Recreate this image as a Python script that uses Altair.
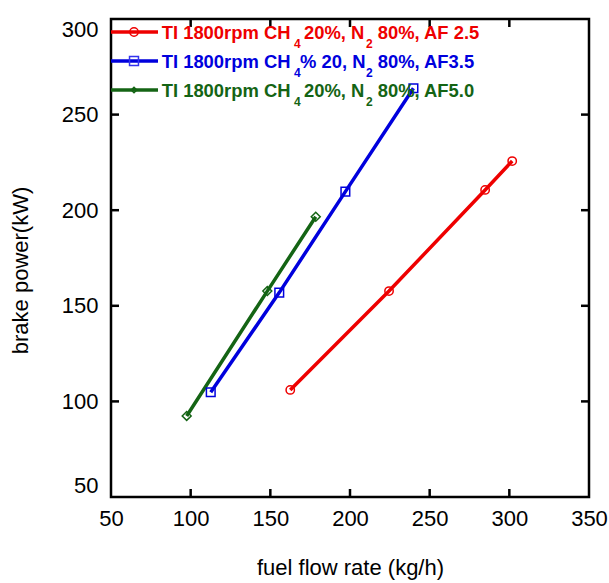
import altair as alt
import pandas as pd

# ---- data ----
series_names = ["AF 2.5", "AF3.5", "AF5.0"]
red_x = [162.5, 224.5, 284.8, 301.8]
red_y = [106.0, 157.7, 210.6, 225.7]
blue_x = [112.6, 155.6, 197.1, 239.8]
blue_y = [104.8, 156.9, 209.7, 263.8]
green_x = [97.5, 148.1, 178.5]
green_y = [92.4, 157.7, 196.6]

x_inner_ticks = [100, 150, 200, 250, 300]
y_inner_ticks = [100, 150, 200, 250]

legend_rows = [
    ["TI 1800rpm CH", "4", "20%, N", "2", "80%, AF 2.5"],
    ["TI 1800rpm CH", "4", "% 20, N", "2", "80%, AF3.5"],
    ["TI 1800rpm CH", "4", "20%, N", "2", "80%, AF5.0"],
]

colors = ["#ee0000", "#0000dd", "#146414"]
marker_colors = ["#ee0000", "#3333ee", "#146414"]
shapes = ["circle", "square", "diamond"]
sizes = [70, 80, 30]

rows = []
for name, xs, ys in zip(series_names, [red_x, blue_x, green_x], [red_y, blue_y, green_y]):
    for a, b in zip(xs, ys):
        rows.append({"series": name, "x": a, "y": b})
df = pd.DataFrame(rows)

FONT = "Liberation Sans"
W = 478
H = 478

xscale = alt.Scale(domain=[50, 350], nice=False, zero=False)
yscale = alt.Scale(domain=[50, 300], nice=False, zero=False)

xaxis = alt.Axis(values=[50, 100, 150, 200, 250, 300, 350], title="fuel flow rate (kg/h)",
                 ticks=False, tickSize=0, domain=False, grid=False, labelPadding=11,
                 labelFlush=False, labelOverlap=False,
                 labelFontSize=22, labelFont=FONT, labelColor="black",
                 titleFontSize=22, titleFont=FONT, titleFontWeight="normal", titleColor="black",
                 titleY=77, titleBaseline="alphabetic", titleX=W / 2, titleAlign="center")
yaxis = alt.Axis(values=[50, 100, 150, 200, 250, 300], title="brake power(kW)",
                 ticks=False, tickSize=0, domain=False, grid=False, labelPadding=13,
                 labelFontSize=22, labelFont=FONT, labelColor="black", labelFlush=True,
                 labelOverlap=False,
                 titleFontSize=22, titleFont=FONT, titleFontWeight="normal", titleColor="black",
                 titleAngle=270, titleX=-84, titleY=251, titleBaseline="alphabetic",
                 titleAlign="center")

color_scale = alt.Scale(domain=series_names, range=colors)

lines = alt.Chart(df).mark_line(strokeWidth=3.5).encode(
    x=alt.X("x:Q", scale=xscale, axis=xaxis),
    y=alt.Y("y:Q", scale=yscale, axis=yaxis),
    color=alt.Color("series:N", scale=color_scale, legend=None),
    detail="series:N",
)

points = alt.Chart(df).mark_point(filled=False, strokeWidth=1.5, opacity=1).encode(
    x=alt.X("x:Q", scale=xscale, axis=xaxis),
    y=alt.Y("y:Q", scale=yscale, axis=yaxis),
    color=alt.Color("series:N", scale=alt.Scale(domain=series_names, range=marker_colors), legend=None),
    shape=alt.Shape("series:N", scale=alt.Scale(domain=series_names, range=shapes), legend=None),
    size=alt.Size("series:N", scale=alt.Scale(domain=series_names, range=sizes), legend=None),
)

xt = pd.DataFrame({"x": x_inner_ticks})
yt = pd.DataFrame({"y": y_inner_ticks})
tick_layers = [
    alt.Chart(xt).mark_rule(color="black", strokeWidth=2.5).encode(
        x=alt.X("x:Q", scale=xscale, axis=xaxis), y=alt.value(H), y2=alt.value(H - 8)),
    alt.Chart(xt).mark_rule(color="black", strokeWidth=2.5).encode(
        x=alt.X("x:Q", scale=xscale, axis=xaxis), y=alt.value(0), y2=alt.value(8)),
    alt.Chart(yt).mark_rule(color="black", strokeWidth=2.5).encode(
        y=alt.Y("y:Q", scale=yscale, axis=yaxis), x=alt.value(0), x2=alt.value(8)),
    alt.Chart(yt).mark_rule(color="black", strokeWidth=2.5).encode(
        y=alt.Y("y:Q", scale=yscale, axis=yaxis), x=alt.value(W), x2=alt.value(W - 8)),
]

# ---- manual legend (top-left, inside the frame) ----
legend_layers = []
row_y = [13, 42, 71]
seg_x_rows = [
    [50.7, 183, 193, 255, 266.7],
    [50.7, 183, 189, 255, 266.7],
    [50.7, 183, 193, 255, 266.7],
]
one = pd.DataFrame({"k": [0]})
for i, (segs, ry) in enumerate(zip(legend_rows, row_y)):
    c = colors[i]
    legend_layers.append(alt.Chart(one).mark_rule(color=c, strokeWidth=3.5).encode(
        x=alt.value(0), x2=alt.value(47), y=alt.value(ry)))
    legend_layers.append(alt.Chart(one).mark_point(
        filled=False, strokeWidth=1.5, shape=shapes[i], size=sizes[i], color=marker_colors[i], opacity=1
    ).encode(x=alt.value(23), y=alt.value(ry)))
    for j, (seg, sx) in enumerate(zip(segs, seg_x_rows[i])):
        sub = j in (1, 3)
        legend_layers.append(alt.Chart(pd.DataFrame({"t": [seg]})).mark_text(
            align="left", baseline="alphabetic", font=FONT, fontWeight="bold",
            fontSize=12 if sub else 18.4, color=c,
        ).encode(x=alt.value(sx), y=alt.value(ry + (16 if sub else 7)), text="t:N"))

chart = alt.layer(lines, points, *tick_layers, *legend_layers).properties(
    width=W, height=H,
    autosize=alt.AutoSizeParams(type="none"),
    padding={"left": 111, "top": 19, "right": 20, "bottom": 86},
).configure(background="white").configure_view(stroke="black", strokeWidth=2.5)

chart.save("out.html", embed_options={"renderer": "svg", "actions": False})
